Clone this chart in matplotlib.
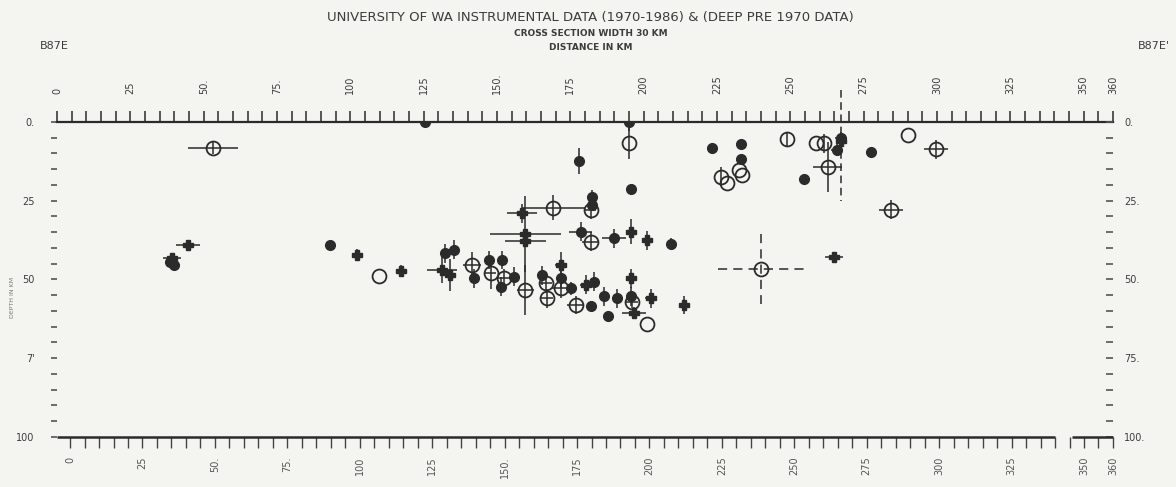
import numpy as np
import matplotlib.pyplot as plt

# coupe B87E - B87E' : distance (km) / profondeur (km)
# cercles ouverts
open_x    = [53.2, 109.6, 141.5, 147.8, 152.3, 159.7, 166.6, 167.1, 169.2, 171.7, 176.8, 181.9, 181.9,
             196.1, 201.3, 195.0, 232.5, 233.6, 226.3, 228.5, 249.0, 258.7, 261.5, 262.7, 290.0, 299.7, 284.3]
open_d    = [8.3, 48.9, 45.4, 48.0, 49.6, 53.3, 51.2, 56.0, 27.2, 52.8, 58.1, 27.9, 38.0,
             57.0, 64.1, 6.8, 15.2, 16.8, 17.4, 19.5, 5.5, 6.8, 6.8, 14.2, 4.1, 8.7, 27.9]
open_xerr = [8.5, 0, 3, 2, 2, 3, 2, 2, 10.7, 3, 3, 2, 3,
             2, 0, 0, 0, 0, 0, 0, 0, 0, 0, 5, 0, 4, 4]
open_derr = [2, 0, 4, 5, 3, 8, 3, 3, 4, 3, 3, 3, 3,
             2, 0, 5, 0, 0, 3, 0, 2, 0, 3, 8, 0, 3, 3]

# grande incertitude (tirets)
big_x, big_d, big_xerr, big_derr = [240.0], [46.7], [14.5], [11.0]

# points pleins
fill_x    = [93.2, 125.6, 177.9, 195.6, 182.5, 182.5, 178.5, 189.9, 209.4, 132.4, 135.5, 147.2, 151.8,
             151.2, 155.7, 142.1, 165.4, 171.7, 175.1, 181.9, 183.0, 186.5, 191.0, 195.6, 187.8,
             40.0, 38.5, 223.4, 233.3, 233.3, 254.5, 267.2, 266.0, 277.5, 195.0]
fill_d    = [39.0, 0.0, 12.4, 21.4, 23.7, 26.3, 34.8, 36.9, 38.7, 41.7, 40.6, 43.8, 43.8,
             52.3, 49.1, 49.6, 48.6, 49.6, 52.8, 58.4, 50.7, 55.4, 56.0, 55.4, 61.6,
             45.5, 44.6, 8.4, 7.0, 11.8, 18.2, 5.2, 8.9, 9.4, 0.0]
fill_xerr = [0, 0, 0, 0, 1, 1, 4, 4, 0, 1, 1, 1, 1,
             1, 1, 1, 1, 1, 1, 1, 1, 1, 1, 1, 0,
             1, 1, 0, 0, 0, 0, 2, 2, 0, 0]
fill_derr = [0, 0, 4, 0, 2, 2, 3, 3, 2, 3, 3, 3, 3,
             3, 3, 3, 3, 3, 2, 0, 3, 3, 3, 3, 0,
             0, 0, 0, 0, 0, 0, 2, 2, 0, 3]

# croix
plus_x    = [44.7, 39.2, 102.4, 117.1, 131.3, 134.1, 158.5, 159.7, 159.7, 171.9, 180.2, 195.6,
             201.3, 195.6, 202.4, 213.8, 196.7, 264.8]
plus_d    = [39.0, 43.2, 42.2, 47.3, 47.0, 48.6, 29.0, 35.6, 37.8, 45.4, 51.7, 34.8,
             37.5, 49.6, 56.0, 58.1, 60.7, 42.9]
plus_xerr = [4, 3, 1, 0, 5, 1, 5, 12, 7, 2, 2, 1,
             1, 1, 2, 1, 4, 3]
plus_derr = [1, 1, 2, 2, 4, 5, 3, 12, 0, 4, 3, 4,
             3, 3, 3, 3, 2, 1]

# croix avec barre verticale en tirets
dash_x, dash_d, dash_derr = [267.2], [6.0], [[16.0], [19.0]]

x_ticks   = [0, 25, 50, 75, 100, 125, 150, 175, 200, 225, 250, 275, 300, 325, 350, 360]
x_labels  = ['0', '25', '50.', '75.', '100', '125', '150.', '175', '200', '225', '250', '275',
             '300', '325', '350', '360']
d_ticks   = [0, 25, 50, 75, 100]
d_left    = ['0.', '25', '50', "7'", '100']
d_right   = ['0.', '25.', '50.', '75.', '100.']

ink = '#2b2b2b'
txt = '#3c3c3c'
paper = '#f4f4f1'

fig = plt.figure(figsize=(11.76, 4.87), dpi=100, facecolor=paper)
ax = fig.add_axes([0.0485, 0.1027, 0.8979, 0.6468], facecolor=paper)
# les jumeaux d'abord, sinon ils remettent les ticks de ax en place
ax2 = ax.twinx()
axb = ax.twiny()

#cercles ouverts avec barres d'erreur
ax.errorbar(open_x, open_d, xerr=open_xerr, yerr=open_derr, fmt='o', ms=10, mfc='none',
            mec=ink, mew=1.3, ecolor=ink, elinewidth=1.1, capsize=0, zorder=3)
eb = ax.errorbar(big_x, big_d, xerr=big_xerr, yerr=big_derr, fmt='o', ms=10, mfc='none',
                 mec=ink, mew=1.3, ecolor=ink, elinewidth=1.1, capsize=0, zorder=3)
for ln in eb[2]:
    ln.set_linestyle((0, (6, 4)))

#points pleins
ax.errorbar(fill_x, fill_d, xerr=fill_xerr, yerr=fill_derr, fmt='o', ms=7, mfc=ink,
            mec=ink, ecolor=ink, elinewidth=1.1, capsize=0, zorder=4)

#croix
ax.errorbar(plus_x, plus_d, xerr=plus_xerr, yerr=plus_derr, fmt='P', ms=7, mfc=ink,
            mec=ink, ecolor=ink, elinewidth=1.1, capsize=0, zorder=4)
eb = ax.errorbar(dash_x, dash_d, yerr=dash_derr, fmt='P', ms=7, mfc=ink, mec=ink,
                 ecolor=ink, elinewidth=1.1, capsize=0, zorder=4)
for ln in eb[2]:
    ln.set_linestyle((0, (5, 3)))
    ln.set_clip_on(False)

ax.set_xlim(0, 360)
ax.set_ylim(100, 0)

#axe du haut
for s in ['left', 'right', 'bottom']:
    ax.spines[s].set_visible(False)
ax.spines['top'].set_color(ink)
ax.spines['top'].set_linewidth(1.6)
ax.xaxis.set_ticks_position('top')
ax.xaxis.set_label_position('top')
ax.set_xticks(x_ticks)
ax.set_xticklabels(x_labels, rotation=90, fontsize=7, color=txt)
ax.set_xticks(np.arange(0, 361, 5), minor=True)
ax.tick_params(axis='x', which='both', direction='out', length=8, width=1.1, color=ink, pad=12,
               top=True, bottom=False, labeltop=True, labelbottom=False)

#axes de profondeur (gauche sur ax, droite sur ax2)
ax.set_yticks(d_ticks)
ax.set_yticklabels(d_left)
ax.set_yticks(np.arange(0, 101, 5), minor=True)
ax.tick_params(axis='y', which='both', direction='out', length=4, width=1.2, color='#555555',
               left=True, right=False, labelleft=True, labelright=False,
               labelsize=7, labelcolor=txt, pad=12)

ax2.set_ylim(100, 0)
ax2.set_yticks(d_ticks)
ax2.set_yticklabels(d_right, fontsize=7, color=txt)
ax2.set_yticks(np.arange(0, 101, 5), minor=True)
ax2.tick_params(axis='y', which='both', direction='in', length=5, width=1.2, color='#555555',
                right=True, left=False, labelright=True, labelleft=False, pad=8)
for s in ['left', 'right', 'bottom', 'top']:
    ax2.spines[s].set_visible(False)

#axe du bas (legerement decale dans l'original)
axb.set_xlim(-4.5, 355.5)
axb.set_ylim(100, 0)
axb.xaxis.set_ticks_position('bottom')
axb.xaxis.set_label_position('bottom')
axb.set_xticks(x_ticks)
axb.set_xticklabels(x_labels, rotation=90, fontsize=7, color='#555555')
axb.set_xticks(np.arange(0, 361, 5), minor=True)
axb.tick_params(axis='x', which='both', direction='out', length=8, width=1.0, color='#444444', pad=6,
                bottom=True, top=False, labelbottom=True, labeltop=False)
for s in ['left', 'right', 'bottom', 'top']:
    axb.spines[s].set_visible(False)
axb.hlines([100, 100], [-4.5, 346], [340, 360], color=ink, lw=1.8, clip_on=False)

#titres
fig.text(0.502, 0.965, 'UNIVERSITY OF WA INSTRUMENTAL DATA (1970-1986) & (DEEP PRE 1970 DATA)',
         ha='center', va='center', fontsize=9.5, color=txt)
fig.text(0.502, 0.932, 'CROSS SECTION WIDTH 30 KM', ha='center', va='center',
         fontsize=6.5, fontweight='bold', color=txt)
fig.text(0.502, 0.902, 'DISTANCE IN KM', ha='center', va='center',
         fontsize=6.5, fontweight='bold', color=txt)
fig.text(0.034, 0.905, 'B87E', ha='left', va='center', fontsize=8, color=txt)
fig.text(0.968, 0.905, "B87E'", ha='left', va='center', fontsize=8, color=txt)
fig.text(0.011, 0.39, 'DEPTH IN KM', ha='center', va='center', rotation=90,
         fontsize=4.5, color='#777777')

fig.savefig('out.png', dpi=100, facecolor=paper)
